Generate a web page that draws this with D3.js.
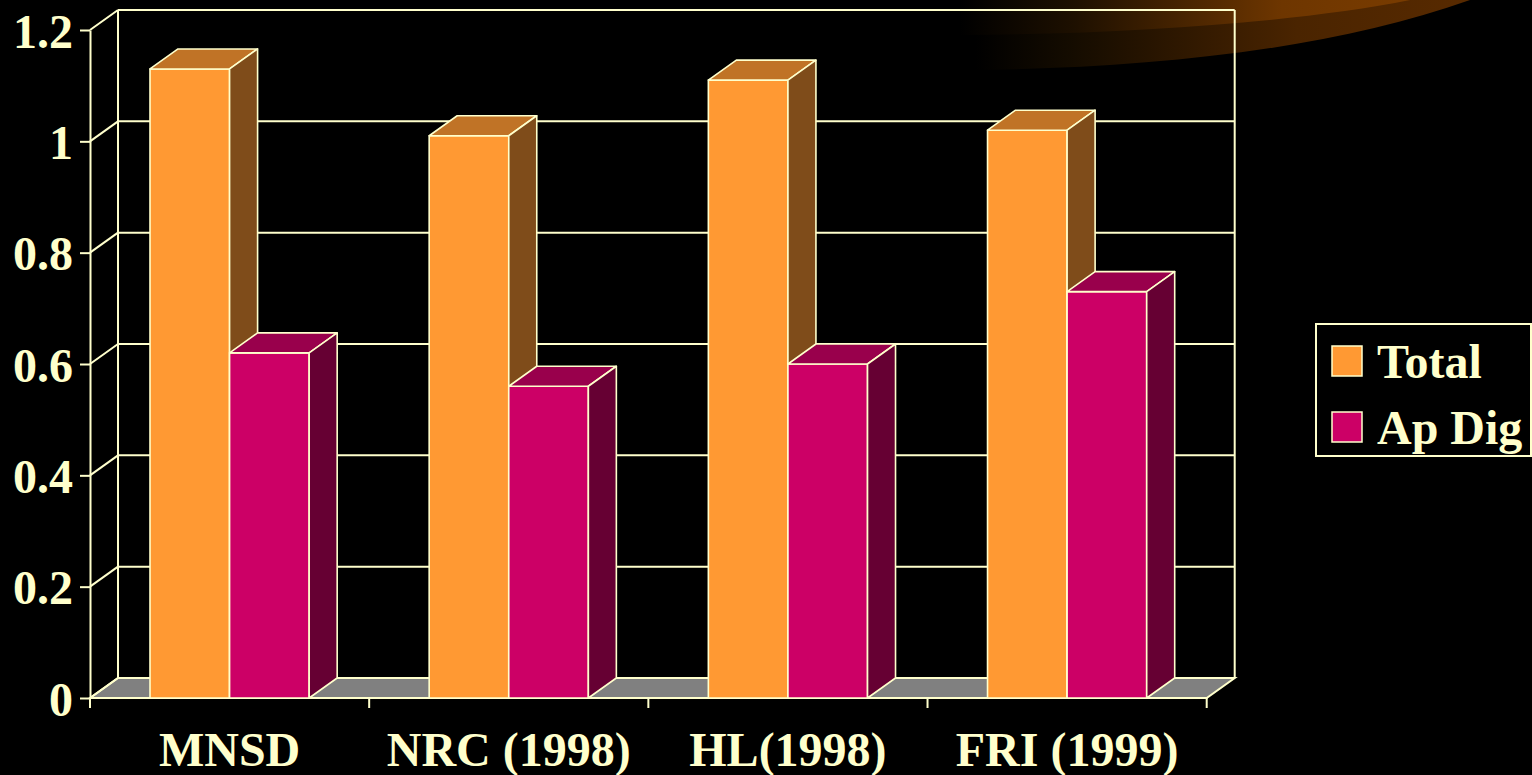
<!DOCTYPE html>
<html>
<head>
<meta charset="utf-8">
<script src="https://cdn.jsdelivr.net/npm/d3@7"></script>
<style>
  html, body { margin: 0; padding: 0; background: #000; }
  svg { display: block; }
</style>
</head>
<body>
<div class="container"></div>
<script>
// data
var categories = ["MNSD", "NRC (1998)", "HL(1998)", "FRI (1999)"];
var seriesNames = ["Total", "Ap Dig"];
var totalValues = [1.13, 1.01, 1.11, 1.02];
var apDigValues = [0.62, 0.56, 0.60, 0.73];
var yTicks = [0, 0.2, 0.4, 0.6, 0.8, 1, 1.2];

var config = {
    width: 1532,
    height: 775,
    left: 90,
    right: 1206.7,
    top: 30,
    bottom: 698,
    depthX: 28,
    depthY: -20,
    line: "#FFFFCC",
    font: "Liberation Serif",
    fontSize: 48,
    colors: {
        "Total": { front: "#FF9933", top: "#C07326", side: "#7F4C1A" },
        "Ap Dig": { front: "#CC0066", top: "#99004C", side: "#660033" }
    }
};

var dx = config.depthX, dy = config.depthY;

var svg = d3.select(".container").append("svg")
    .attr("xmlns", "http://www.w3.org/2000/svg")
    .attr("width", config.width)
    .attr("height", config.height);

svg.append("rect").attr("width", config.width).attr("height", config.height).attr("fill", "#000");

// background swoosh of the slide template
var defs = svg.append("defs");
var g1 = defs.append("linearGradient").attr("id", "swooshLow")
    .attr("gradientUnits", "userSpaceOnUse").attr("x1", 975).attr("x2", 1470).attr("y1", 0).attr("y2", 0);
g1.append("stop").attr("offset", "0").attr("stop-color", "#000");
g1.append("stop").attr("offset", "0.2").attr("stop-color", "#150c00");
g1.append("stop").attr("offset", "0.65").attr("stop-color", "#4a2400");
g1.append("stop").attr("offset", "1").attr("stop-color", "#582a00");
var g2 = defs.append("linearGradient").attr("id", "swooshHigh")
    .attr("gradientUnits", "userSpaceOnUse").attr("x1", 960).attr("x2", 1420).attr("y1", 0).attr("y2", 0);
g2.append("stop").attr("offset", "0").attr("stop-color", "#000");
g2.append("stop").attr("offset", "0.25").attr("stop-color", "#1e1000");
g2.append("stop").attr("offset", "0.7").attr("stop-color", "#6e3600");
g2.append("stop").attr("offset", "1").attr("stop-color", "#7a3c00");

svg.append("path")
    .attr("d", "M975,0 L975,70 C1150,68 1330,50 1470,0 Z")
    .attr("fill", "url(#swooshLow)");
svg.append("path")
    .attr("d", "M960,0 L960,35 C1130,34 1300,22 1410,0 Z")
    .attr("fill", "url(#swooshHigh)");

// scales
var y = d3.scaleLinear().domain([0, 1.2]).range([config.bottom, config.top]);
var x = d3.scaleBand().domain(categories).range([config.left, config.right]);
var xSub = d3.scaleBand().domain(seriesNames).range([60, x.bandwidth() - 60]);

var walls = svg.append("g").attr("fill", "none").attr("stroke", config.line).attr("stroke-width", 2);

// floor
walls.append("path")
    .attr("d", "M" + config.left + "," + y(0) + "L" + config.right + "," + y(0) +
        "L" + (config.right + dx) + "," + (y(0) + dy) + "L" + (config.left + dx) + "," + (y(0) + dy) + "Z")
    .attr("fill", "#808080");

// back wall gridlines and side wall diagonals
walls.selectAll(".grid").data(yTicks).enter().append("line")
    .attr("x1", config.left + dx).attr("x2", config.right + dx)
    .attr("y1", function(d) { return y(d) + dy; })
    .attr("y2", function(d) { return y(d) + dy; });
walls.selectAll(".diag").data(yTicks).enter().append("line")
    .attr("x1", config.left).attr("x2", config.left + dx)
    .attr("y1", function(d) { return y(d); })
    .attr("y2", function(d) { return y(d) + dy; });
walls.append("line")
    .attr("x1", config.left + dx).attr("x2", config.left + dx)
    .attr("y1", y(1.2) + dy).attr("y2", y(0) + dy);
walls.append("line")
    .attr("x1", config.right + dx).attr("x2", config.right + dx)
    .attr("y1", y(1.2) + dy).attr("y2", y(0) + dy);

// bars
var bars = [];
categories.forEach(function(c, i) {
    [totalValues[i], apDigValues[i]].forEach(function(v, j) {
        var s = seriesNames[j];
        bars.push({ x0: x(c) + xSub(s), x1: x(c) + xSub(s) + xSub.bandwidth(), y0: y(0), y1: y(v), s: s });
    });
});

var barG = svg.selectAll(".bar").data(bars).enter().append("g")
    .attr("stroke", config.line).attr("stroke-width", 1.6).attr("stroke-linejoin", "round");

barG.append("path")
    .attr("d", function(d) {
        return "M" + d.x0 + "," + d.y0 + "L" + d.x0 + "," + d.y1 + "L" + d.x1 + "," + d.y1 + "L" + d.x1 + "," + d.y0 + "Z";
    })
    .attr("fill", function(d) { return config.colors[d.s].front; });
barG.append("path")
    .attr("d", function(d) {
        return "M" + d.x0 + "," + d.y1 + "L" + (d.x0 + dx) + "," + (d.y1 + dy) + "L" + (d.x1 + dx) + "," + (d.y1 + dy) + "L" + d.x1 + "," + d.y1 + "Z";
    })
    .attr("fill", function(d) { return config.colors[d.s].top; });
barG.append("path")
    .attr("d", function(d) {
        return "M" + d.x1 + "," + d.y1 + "L" + (d.x1 + dx) + "," + (d.y1 + dy) + "L" + (d.x1 + dx) + "," + (d.y0 + dy) + "L" + d.x1 + "," + d.y0 + "Z";
    })
    .attr("fill", function(d) { return config.colors[d.s].side; });

// y axis
var yAxis = svg.append("g")
    .attr("transform", "translate(" + config.left + ",0)")
    .call(d3.axisLeft(y).tickValues(yTicks).tickSize(10).tickSizeOuter(0).tickPadding(7).tickFormat(d3.format("")));

// x axis: labels at centres, ticks at category boundaries
var xAxis = svg.append("g")
    .attr("transform", "translate(0," + config.bottom + ")")
    .call(d3.axisBottom(x).tickSize(0).tickPadding(34));
xAxis.select(".domain").remove();
var bounds = categories.map(function(c) { return x(c); }).concat([config.right]);
xAxis.selectAll(".btick").data(bounds).enter().append("line")
    .attr("x1", function(d) { return d; }).attr("x2", function(d) { return d; })
    .attr("y1", 0).attr("y2", 10);

[yAxis, xAxis].forEach(function(a) {
    a.selectAll("path, line").attr("stroke", config.line).attr("stroke-width", 2);
    a.selectAll("text")
        .attr("fill", config.line)
        .attr("font-family", config.font)
        .attr("font-weight", "bold")
        .attr("font-size", config.fontSize);
});
yAxis.selectAll("text").attr("dy", "0.36em");

// legend
var legend = svg.append("g");
legend.append("rect")
    .attr("x", 1316).attr("y", 324).attr("width", 215).attr("height", 132)
    .attr("fill", "#000").attr("stroke", config.line).attr("stroke-width", 2);
var item = legend.selectAll(".item").data(seriesNames).enter().append("g")
    .attr("transform", function(d, i) { return "translate(1332," + (346 + i * 66) + ")"; });
item.append("rect")
    .attr("width", 30).attr("height", 30)
    .attr("fill", function(d) { return config.colors[d].front; })
    .attr("stroke", config.line).attr("stroke-width", 1.5);
item.append("text")
    .attr("x", 45).attr("y", 32)
    .attr("fill", config.line)
    .attr("font-family", config.font)
    .attr("font-weight", "bold")
    .attr("font-size", config.fontSize)
    .text(function(d) { return d; });
</script>
</body>
</html>
